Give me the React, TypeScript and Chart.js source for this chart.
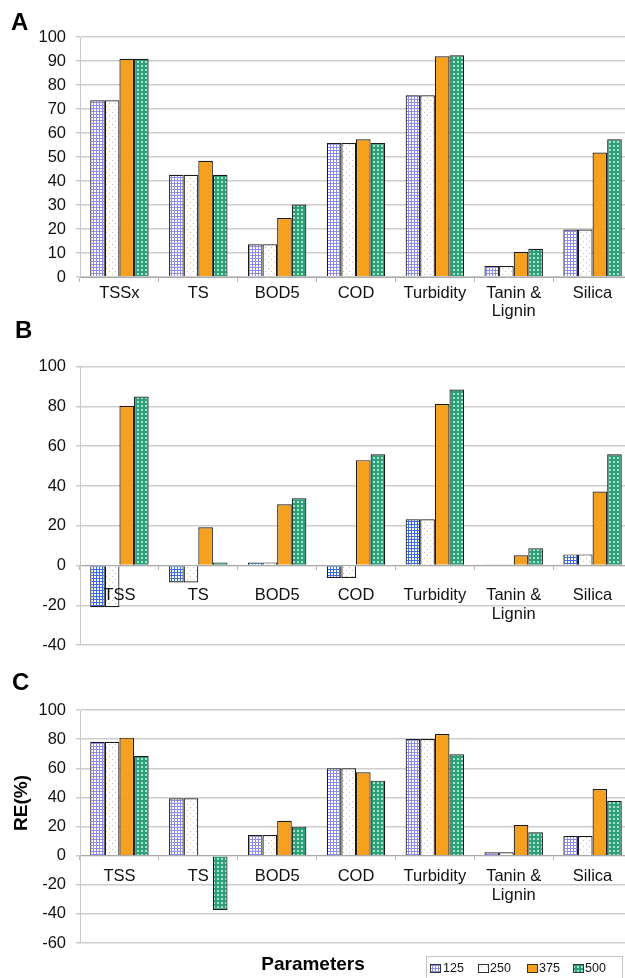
import React, { useEffect, useRef } from 'react';
import { Chart, registerables } from 'chart.js';
Chart.register(...registerables);

const seriesLabels = ['125', '250', '375', '500'];
const categoriesA: (string | string[])[] = ['TSSx', 'TS', 'BOD5', 'COD', 'Turbidity', ['Tanin &', 'Lignin'], 'Silica'];
const categoriesBC: (string | string[])[] = ['TSS', 'TS', 'BOD5', 'COD', 'Turbidity', ['Tanin &', 'Lignin'], 'Silica'];

const a125 = [73.6, 42.6, 13.6, 55.8, 75.7, 4.6, 19.8];
const a250 = [73.6, 42.6, 13.6, 55.8, 75.7, 4.6, 19.8];
const a375 = [90.9, 48.4, 24.6, 57.4, 92.0, 10.4, 51.9];
const a500 = [90.9, 42.6, 30.2, 55.8, 92.4, 11.8, 57.4];

const b125 = [-21, -8.5, 1.6, -6.2, 23.3, 0.5, 5.6];
const b250 = [-21, -8.5, 1.6, -6.2, 23.3, 0.5, 5.6];
const b375 = [80.3, 19.3, 30.8, 53.0, 81.2, 5.2, 37.2];
const b500 = [85.0, 1.6, 33.9, 56.0, 88.5, 8.7, 56.0];

const c125 = [78.2, 39.4, 14.2, 60.0, 80.1, 2.3, 13.5];
const c250 = [78.2, 39.4, 14.2, 60.0, 80.1, 2.3, 13.5];
const c375 = [81.0, 0.5, 24.0, 57.2, 83.5, 21.0, 45.8];
const c500 = [68.6, -37.3, 19.9, 51.5, 69.6, 16.0, 37.7];

const FONT = '"Liberation Sans", Arial, Helvetica, sans-serif';
const CW = 640;

function tile(w: number, h: number, draw: (g: CanvasRenderingContext2D) => void) {
  const c = document.createElement('canvas');
  c.width = w;
  c.height = h;
  const g = c.getContext('2d')!;
  draw(g);
  return g.createPattern(c, 'repeat')!;
}

function makePatterns(gridColor: string) {
  const p125 = tile(3, 3, (g) => {
    g.fillStyle = '#ffffff';
    g.fillRect(0, 0, 3, 3);
    g.fillStyle = gridColor;
    g.fillRect(0, 0, 3, 1);
    g.fillRect(0, 0, 1, 3);
  });
  const p250 = tile(6, 6, (g) => {
    g.fillStyle = '#ffffff';
    g.fillRect(0, 0, 6, 6);
    g.fillStyle = '#cdb6b6';
    g.fillRect(1, 1, 1, 1);
    g.fillRect(4, 4, 1, 1);
  });
  const p375 = tile(4, 4, (g) => {
    g.fillStyle = '#f8a31e';
    g.fillRect(0, 0, 4, 4);
    g.fillStyle = '#ea9218';
    g.fillRect(0, 0, 1, 1);
    g.fillRect(2, 2, 1, 1);
  });
  const p500 = tile(4, 4, (g) => {
    g.fillStyle = '#2f9f79';
    g.fillRect(0, 0, 4, 4);
    g.fillStyle = '#a2e6c9';
    g.fillRect(1, 1, 2, 2);
  });
  return [p125, p250, p375, p500];
}

function panelLabel(letter: string, x: number, y: number) {
  return {
    id: 'panel' + letter,
    afterDraw(chart: any) {
      const ctx = chart.ctx;
      ctx.save();
      ctx.font = `bold 24px ${FONT}`;
      ctx.fillStyle = '#000';
      ctx.textAlign = 'left';
      ctx.textBaseline = 'middle';
      ctx.fillText(letter, x, y);
      ctx.restore();
    },
  };
}

function bottomDecor(patterns: CanvasPattern[]) {
  return {
    id: 'bottomDecor',
    afterDraw(chart: any) {
      const ctx = chart.ctx;
      ctx.save();
      ctx.translate(22, 138);
      ctx.rotate(-Math.PI / 2);
      ctx.font = `bold 19px ${FONT}`;
      ctx.fillStyle = '#000';
      ctx.textAlign = 'center';
      ctx.textBaseline = 'middle';
      ctx.fillText('RE(%)', 0, 0);
      ctx.restore();

      ctx.save();
      ctx.font = `bold 19px ${FONT}`;
      ctx.fillStyle = '#000';
      ctx.textAlign = 'center';
      ctx.textBaseline = 'middle';
      ctx.fillText('Parameters', 313, 300);

      ctx.strokeStyle = '#c4c4c4';
      ctx.lineWidth = 1;
      ctx.strokeRect(426.5, 291.5, 196, 30);
      const sx = [430, 478, 527, 573];
      const tx = [443, 490, 539, 585];
      ctx.font = `12.5px ${FONT}`;
      ctx.textAlign = 'left';
      for (let i = 0; i < 4; i++) {
        ctx.fillStyle = patterns[i];
        ctx.fillRect(sx[i], 299, 10, 8);
        ctx.strokeStyle = '#333';
        ctx.strokeRect(sx[i] + 0.5, 299.5, 10, 8);
        ctx.fillStyle = '#111';
        ctx.fillText(seriesLabels[i], tx[i], 303.5);
      }
      ctx.restore();
    },
  };
}

function makeConfig(
  labels: (string | string[])[],
  data: number[][],
  patterns: CanvasPattern[],
  min: number,
  max: number,
  step: number,
  xPad: number,
  padTop: number,
  padBottom: number,
  plugins: any[]
): any {
  return {
    type: 'bar',
    data: {
      labels,
      datasets: data.map((d, i) => ({
        label: seriesLabels[i],
        data: d,
        backgroundColor: patterns[i],
        borderColor: '#1a1a1a',
        borderWidth: 1.2,
        barPercentage: 1,
        categoryPercentage: 0.741,
      })),
    },
    options: {
      responsive: false,
      animation: false,
      layout: { padding: { top: padTop, bottom: padBottom, left: 0, right: CW - 632 } },
      plugins: { legend: { display: false }, tooltip: { enabled: false } },
      scales: {
        x: {
          type: 'category',
          position: { y: 0 },
          offset: true,
          grid: { display: true, drawOnChartArea: false, drawTicks: true, tickLength: 4, color: '#b4b4b4', offset: true },
          border: { display: true, color: '#a8a8a8', width: 1 },
          ticks: {
            color: '#111',
            font: { family: FONT, size: 16.5, lineHeight: 1.12 },
            padding: xPad,
            maxRotation: 0,
            autoSkip: false,
            z: 1,
          },
        },
        y: {
          type: 'linear',
          min,
          max,
          ticks: { stepSize: step, color: '#111', font: { family: FONT, size: 16.5 }, padding: 10 },
          grid: { color: '#cdcdcd', lineWidth: 1.5, tickLength: 4, drawTicks: true },
          border: { display: true, color: '#c8c8c8', width: 1 },
          afterFit: (s: any) => {
            s.width = 80;
          },
        },
      },
    },
    plugins,
  };
}

export default function App() {
  const refA = useRef<HTMLCanvasElement>(null);
  const refB = useRef<HTMLCanvasElement>(null);
  const refC = useRef<HTMLCanvasElement>(null);

  useEffect(() => {
    const patAC = makePatterns('#8d8cec');
    const patB = makePatterns('#3a6ce0');
    const charts: Chart[] = [];
    charts.push(
      new Chart(
        refA.current!,
        makeConfig(categoriesA, [a125, a250, a375, a500], patAC, 0, 100, 10, 3, 37, 43, [panelLabel('A', 11, 23)])
      )
    );
    charts.push(
      new Chart(
        refB.current!,
        makeConfig(categoriesBC, [b125, b250, b375, b500], patB, -40, 100, 20, 17, 46.7, 13.7, [panelLabel('B', 15, 11)])
      )
    );
    charts.push(
      new Chart(
        refC.current!,
        makeConfig(categoriesBC, [c125, c250, c375, c500], patAC, -60, 100, 20, 8, 45, 35, [
          panelLabel('C', 12, 18),
          bottomDecor(patAC),
        ])
      )
    );
    return () => charts.forEach((c) => c.destroy());
  }, []);

  return (
    <div style={{ position: 'absolute', left: 0, top: 0, width: 625, height: 978, background: '#fff', overflow: 'hidden' }}>
      <canvas ref={refA} width={CW} height={320} style={{ position: 'absolute', left: 0, top: 0, width: CW, height: 320 }} />
      <canvas ref={refB} width={CW} height={345} style={{ position: 'absolute', left: 0, top: 320, width: CW, height: 345 }} />
      <canvas ref={refC} width={CW} height={313} style={{ position: 'absolute', left: 0, top: 665, width: CW, height: 313 }} />
    </div>
  );
}
